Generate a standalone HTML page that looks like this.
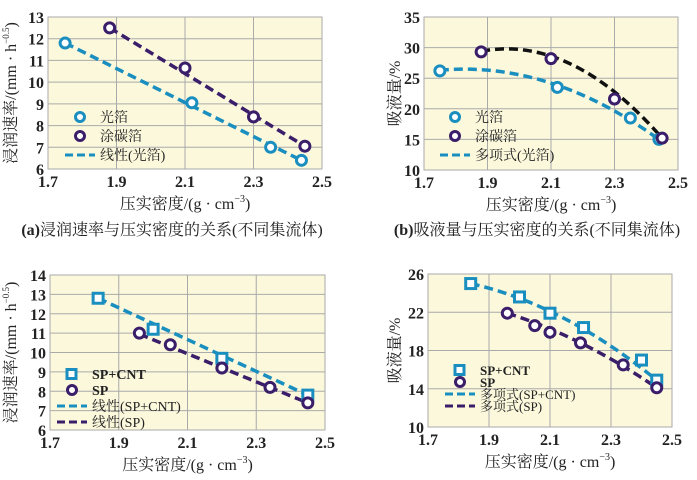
<!DOCTYPE html><html><head><meta charset="utf-8"><style>
body{margin:0;background:#fff;width:697px;height:475px;overflow:hidden}
text{font-family:"Liberation Serif","Noto Serif CJK SC",serif;fill:#222}
</style></head><body>
<svg id="s" width="697" height="475" xmlns="http://www.w3.org/2000/svg"></svg>
<script>
const C='#1a8fbf',P='#3a1e6a',K='#111';
let h='';
function chart(o){
 const {x0,x1,y0,y1,ymin,ymax,ystep}=o;
 const X=v=>x0+(v-1.7)/0.8*(x1-x0), Y=v=>y1-(v-ymin)/(ymax-ymin)*(y1-y0);
 h+=`<rect x="${x0}" y="${y0}" width="${x1-x0}" height="${y1-y0}" fill="#fbf8dc" stroke="#aaa" stroke-width="1"/>`;
 for(let v=ymin;v<=ymax+1e-9;v+=ystep){h+=`<line x1="${x0}" x2="${x1}" y1="${Y(v)}" y2="${Y(v)}" stroke="#aaa"/>`;
  h+=`<text x="${x0-4}" y="${Y(v)+6}" font-size="16" font-weight="bold" text-anchor="end">${v}</text>`;}
 [1.7,1.9,2.1,2.3,2.5].forEach(v=>{h+=`<line x1="${X(v)}" x2="${X(v)}" y1="${y0}" y2="${y1}" stroke="#aaa"/>`;
  h+=`<text x="${X(v)}" y="${y1+18}" font-size="16" font-weight="bold" text-anchor="middle">${v.toFixed(1)}</text>`;});
 o.lines.forEach(l=>{const pts=[];for(let i=0;i<=40;i++){const x=l.a+(l.b-l.a)*i/40;pts.push(X(x)+','+Y(l.f(x)))}
  h+=`<polyline points="${pts.join(' ')}" fill="none" stroke="${l.c}" stroke-width="3.5" stroke-dasharray="9,5"/>`;});
 o.pts.forEach(s=>s.d.forEach(([a,b])=>{ if(s.sq)h+=`<rect x="${X(a)-5}" y="${Y(b)-5}" width="10" height="10" fill="#fff" stroke="${s.c}" stroke-width="3"/>`;
  else h+=`<circle cx="${X(a)}" cy="${Y(b)}" r="5" fill="#fff" stroke="${s.c}" stroke-width="3"/>`;}));
 h+=`<text x="${(x0+x1)/2}" y="${y1+40}" font-size="16" text-anchor="middle">压实密度/(g · cm<tspan dy="-7" font-size="10">−3</tspan><tspan dy="7">)</tspan></text>`;
 h+=`<text transform="translate(${o.yl},${(y0+y1)/2}) rotate(-90)" font-size="16" text-anchor="middle">${o.yt}</text>`;
}
function lin(p,q){return x=>p[1]+(q[1]-p[1])*(x-p[0])/(q[0]-p[0])}
function quad(p,q,r){return x=>{const a=p,b=q,c=r;return a[1]*(x-b[0])*(x-c[0])/((a[0]-b[0])*(a[0]-c[0]))+b[1]*(x-a[0])*(x-c[0])/((b[0]-a[0])*(b[0]-c[0]))+c[1]*(x-a[0])*(x-b[0])/((c[0]-a[0])*(c[0]-b[0]))}}
const yt1='浸润速率/(mm · h<tspan dy="-7" font-size="9">−0.5</tspan><tspan dy="7">)</tspan>';
chart({x0:48,x1:322,y0:17,y1:169,ymin:6,ymax:13,ystep:1,yl:16,yt:yt1,
 lines:[{a:1.75,b:2.44,c:C,f:lin([1.75,11.8],[2.44,6.4])},{a:1.88,b:2.45,c:P,f:lin([1.88,12.5],[2.45,7.05])}],
 pts:[{c:C,d:[[1.75,11.8],[2.12,9.05],[2.35,7.0],[2.44,6.4]]},{c:P,d:[[1.88,12.5],[2.1,10.65],[2.3,8.4],[2.45,7.05]]}]});
chart({x0:424,x1:678,y0:17,y1:170,ymin:10,ymax:35,ystep:5,yl:400,yt:'吸液量/%',
 lines:[{a:1.75,b:2.44,c:C,f:quad([1.75,26.3],[2.1,24.2],[2.44,15])},{a:1.88,b:2.45,c:K,f:quad([1.88,29.4],[2.15,27.6],[2.45,15.2])}],
 pts:[{c:C,d:[[1.75,26.2],[2.12,23.5],[2.35,18.5],[2.44,15]]},{c:P,d:[[1.88,29.3],[2.1,28.2],[2.3,21.6],[2.45,15.2]]}]});
chart({x0:50,x1:325,y0:275,y1:430,ymin:6,ymax:14,ystep:1,yl:16,yt:yt1,
 lines:[{a:1.84,b:2.45,c:C,f:lin([1.84,12.8],[2.45,7.8])},{a:1.96,b:2.45,c:P,f:lin([1.96,10.95],[2.45,7.4])}],
 pts:[{c:C,sq:1,d:[[1.84,12.8],[2.0,11.2],[2.2,9.7],[2.45,7.8]]},{c:P,d:[[1.96,11],[2.05,10.4],[2.2,9.2],[2.34,8.2],[2.45,7.4]]}]});
chart({x0:428,x1:672,y0:274,y1:427,ymin:10,ymax:26,ystep:4,yl:400,yt:'吸液量/%',
 lines:[{a:1.84,b:2.45,c:C,f:quad([1.84,25],[2.15,21.3],[2.45,14.9])},{a:1.96,b:2.45,c:P,f:quad([1.96,21.9],[2.2,18.8],[2.45,14.1])}],
 pts:[{c:C,sq:1,d:[[1.84,25],[2.0,23.6],[2.1,21.9],[2.21,20.4],[2.4,17],[2.45,14.9]]},{c:P,d:[[1.96,21.9],[2.05,20.6],[2.1,19.9],[2.2,18.8],[2.34,16.5],[2.45,14.1]]}]});
function leg(x,y,items,fs,gap){items.forEach((it,i)=>{const yy=y+i*gap;
 if(it.t=='c')h+=`<circle cx="${x+10}" cy="${yy}" r="4.5" fill="#fff" stroke="${it.c}" stroke-width="3"/>`;
 else if(it.t=='s')h+=`<rect x="${x+5}" y="${yy-4.5}" width="9" height="9" fill="#fff" stroke="${it.c}" stroke-width="3"/>`;
 else h+=`<line x1="${x-5}" x2="${x+25}" y1="${yy}" y2="${yy}" stroke="${it.c}" stroke-width="3" stroke-dasharray="8,4"/>`;
 h+=`<text x="${x+30}" y="${yy+5}" font-size="${fs}" ${it.b?'font-weight="bold"':''}>${it.l}</text>`;});}
leg(70,117,[{t:'c',c:C,l:'光箔'},{t:'c',c:P,l:'涂碳箔'},{t:'l',c:C,l:'线性(光箔)'}],14,19);
leg(445,117,[{t:'c',c:C,l:'光箔'},{t:'c',c:P,l:'涂碳箔'},{t:'l',c:C,l:'多项式(光箔)'}],14,19);
leg(62,374,[{t:'s',c:C,l:'SP+CNT',b:1},{t:'c',c:P,l:'SP',b:1},{t:'l',c:C,l:'线性(SP+CNT)'},{t:'l',c:P,l:'线性(SP)'}],14,16);
leg(450,370,[{t:'s',c:C,l:'SP+CNT',b:1},{t:'c',c:P,l:'SP',b:1},{t:'l',c:C,l:'多项式(SP+CNT)'},{t:'l',c:P,l:'多项式(SP)'}],13,12);
h+=`<text x="172" y="235" font-size="16" text-anchor="middle"><tspan font-weight="bold">(a)</tspan>浸润速率与压实密度的关系(不同集流体)</text>`;
h+=`<text x="537" y="235" font-size="16" text-anchor="middle"><tspan font-weight="bold">(b)</tspan>吸液量与压实密度的关系(不同集流体)</text>`;
document.getElementById('s').innerHTML=h;
</script></body></html>
